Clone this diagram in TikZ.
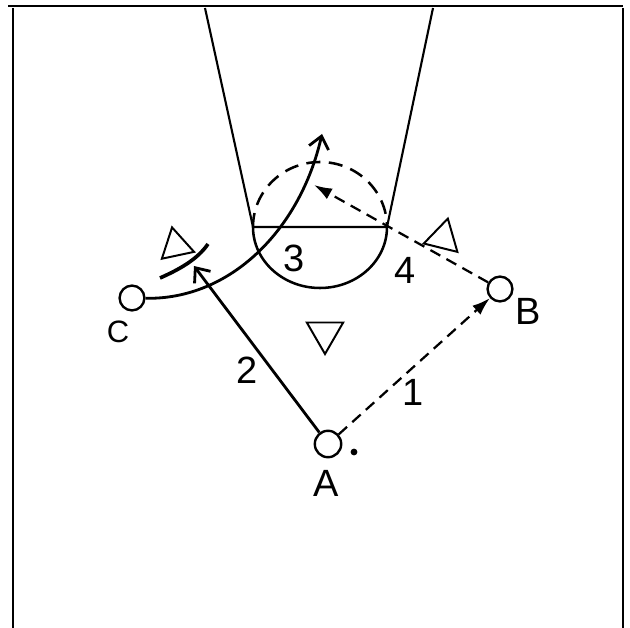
\documentclass[tikz,border=0pt]{standalone}
\usepackage{fontspec}
\setsansfont{Liberation Sans}
\usetikzlibrary{arrows.meta,shapes.geometric}

\begin{document}
\begin{tikzpicture}[
    x=0.025cm, y=-0.025cm,
    every node/.style={font=\sffamily\fontsize{27}{27}\selectfont},
    court/.style={line width=1.5pt},
    player/.style={circle, draw, line width=1.7pt, minimum size=0.62cm, inner sep=0pt},
    defender/.style={regular polygon, regular polygon sides=3, draw, line width=1.4pt, inner sep=0pt},
    move/.style={line width=2pt},
    pass/.style={line width=1.6pt, dash pattern=on 8pt off 5pt}
]

\useasboundingbox (0,0) rectangle (630,628);

% Draw the frame
\draw[court] (8,6) -- (623,6);
\draw[court] (13,8) -- (13,628);
\draw[court] (623,8) -- (623,628);

% Lane and free-throw circle
\coordinate (FL) at (253,227);
\coordinate (FR) at (387,227);
\draw[court] (205,8) -- (FL) -- (FR) -- (433,8);
\draw[line width=1.8pt] (FL) arc[start angle=180, end angle=0, x radius=67, y radius=61];
\draw[line width=1.8pt, dash pattern=on 10pt off 6pt] (FL) arc[start angle=180, end angle=360, x radius=67, y radius=65];

% Players and defenders
\node[player] (C) at (132,298) {};
\node[player] (B) at (500,289) {};
\node[player, minimum size=0.66cm] (A) at (328,444) {};
\node[circle, fill, inner sep=0pt, minimum size=1.7mm] (ball) at (354,452) {};

\node[defender, minimum size=0.95cm, rotate=12] (d1) at (176,246) {};
\node[defender, minimum size=1.0cm, rotate=-14] (d2) at (443,238) {};
\node[defender, minimum size=1.05cm, rotate=180] (d3) at (325,333) {};

% Moves
\coordinate (s2) at (194,266);
\coordinate (s3) at (322,134);
\coordinate (s4) at (314,185);
\draw[pass, -{Latex[length=4.5mm,width=3mm]}] (A) -- (B);
\draw[move, -{Straight Barb[length=3mm,width=5mm]}] (A) -- (s2);
\draw[line width=2.6pt] (160,278) .. controls (178,270) and (197,260) .. (208,244);
\draw[move, -{Straight Barb[length=3mm,width=5mm]}] (C) .. controls (230,300) and (300,230) .. (s3);
\draw[pass, -{Latex[length=4.5mm,width=3mm]}] (B) -- (s4);

% Labels
\node (lA) at (326,483) {A};
\node (lB) at (528,311) {B};
\node[font=\sffamily\fontsize{22}{22}\selectfont] (lC) at (118,332) {C};
\node (n1) at (413,392) {1};
\node (n2) at (247,370) {2};
\node (n3) at (294,258) {3};
\node (n4) at (405,270) {4};

\end{tikzpicture}
\end{document}
